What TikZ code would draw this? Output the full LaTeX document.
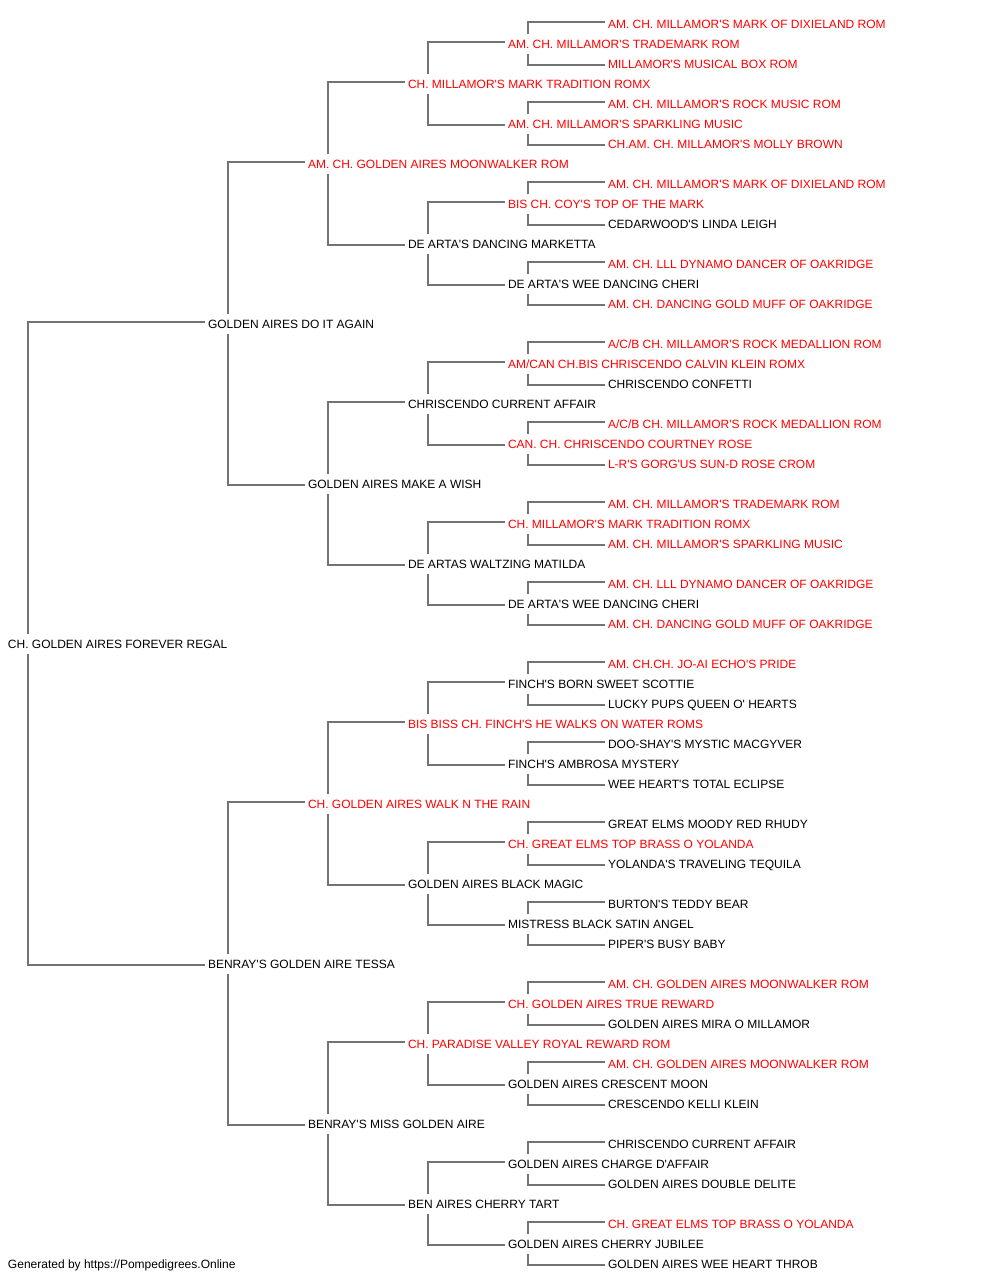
\documentclass[tikz,border=0pt]{standalone}
\usepackage{fontspec}
\setmainfont{Liberation Sans}[Ligatures=TeXOff]
\begin{document}
\begin{tikzpicture}[x=1pt,y=1pt,
  dog/.style={anchor=west,inner sep=0pt,outer sep=0pt,text height=8.6pt,text depth=0pt,font=\fontsize{12}{14}\selectfont,text=black},
  ch/.style={dog,text=red},
  link/.style={draw=black!55,line width=1.6pt}]
\useasboundingbox (0,0) rectangle (1000,-1280);
\newcommand\pn[5]{\node[#4] (#1) at (#2,{-(24+20*#3)}) {#5};}
% generation 0
\pn{r}{8}{31}{dog}{CH. GOLDEN AIRES FOREVER REGAL}
% generation 1
\pn{r0}{208}{15}{dog}{GOLDEN AIRES DO IT AGAIN}
\pn{r1}{208}{47}{dog}{BENRAY'S GOLDEN AIRE TESSA}
% generation 2
\pn{r00}{308}{7}{ch}{AM. CH. GOLDEN AIRES MOONWALKER ROM}
\pn{r01}{308}{23}{dog}{GOLDEN AIRES MAKE A WISH}
\pn{r10}{308}{39}{ch}{CH. GOLDEN AIRES WALK N THE RAIN}
\pn{r11}{308}{55}{dog}{BENRAY'S MISS GOLDEN AIRE}
% generation 3
\pn{r000}{408}{3}{ch}{CH. MILLAMOR'S MARK TRADITION ROMX}
\pn{r001}{408}{11}{dog}{DE ARTA'S DANCING MARKETTA}
\pn{r010}{408}{19}{dog}{CHRISCENDO CURRENT AFFAIR}
\pn{r011}{408}{27}{dog}{DE ARTAS WALTZING MATILDA}
\pn{r100}{408}{35}{ch}{BIS BISS CH. FINCH'S HE WALKS ON WATER ROMS}
\pn{r101}{408}{43}{dog}{GOLDEN AIRES BLACK MAGIC}
\pn{r110}{408}{51}{ch}{CH. PARADISE VALLEY ROYAL REWARD ROM}
\pn{r111}{408}{59}{dog}{BEN AIRES CHERRY TART}
% generation 4
\pn{r0000}{508}{1}{ch}{AM. CH. MILLAMOR'S TRADEMARK ROM}
\pn{r0001}{508}{5}{ch}{AM. CH. MILLAMOR'S SPARKLING MUSIC}
\pn{r0010}{508}{9}{ch}{BIS CH. COY'S TOP OF THE MARK}
\pn{r0011}{508}{13}{dog}{DE ARTA'S WEE DANCING CHERI}
\pn{r0100}{508}{17}{ch}{AM/CAN CH.BIS CHRISCENDO CALVIN KLEIN ROMX}
\pn{r0101}{508}{21}{ch}{CAN. CH. CHRISCENDO COURTNEY ROSE}
\pn{r0110}{508}{25}{ch}{CH. MILLAMOR'S MARK TRADITION ROMX}
\pn{r0111}{508}{29}{dog}{DE ARTA'S WEE DANCING CHERI}
\pn{r1000}{508}{33}{dog}{FINCH'S BORN SWEET SCOTTIE}
\pn{r1001}{508}{37}{dog}{FINCH'S AMBROSA MYSTERY}
\pn{r1010}{508}{41}{ch}{CH. GREAT ELMS TOP BRASS O YOLANDA}
\pn{r1011}{508}{45}{dog}{MISTRESS BLACK SATIN ANGEL}
\pn{r1100}{508}{49}{ch}{CH. GOLDEN AIRES TRUE REWARD}
\pn{r1101}{508}{53}{dog}{GOLDEN AIRES CRESCENT MOON}
\pn{r1110}{508}{57}{dog}{GOLDEN AIRES CHARGE D'AFFAIR}
\pn{r1111}{508}{61}{dog}{GOLDEN AIRES CHERRY JUBILEE}
% generation 5
\pn{r00000}{608}{0}{ch}{AM. CH. MILLAMOR'S MARK OF DIXIELAND ROM}
\pn{r00001}{608}{2}{ch}{MILLAMOR'S MUSICAL BOX ROM}
\pn{r00010}{608}{4}{ch}{AM. CH. MILLAMOR'S ROCK MUSIC ROM}
\pn{r00011}{608}{6}{ch}{CH.AM. CH. MILLAMOR'S MOLLY BROWN}
\pn{r00100}{608}{8}{ch}{AM. CH. MILLAMOR'S MARK OF DIXIELAND ROM}
\pn{r00101}{608}{10}{dog}{CEDARWOOD'S LINDA LEIGH}
\pn{r00110}{608}{12}{ch}{AM. CH. LLL DYNAMO DANCER OF OAKRIDGE}
\pn{r00111}{608}{14}{ch}{AM. CH. DANCING GOLD MUFF OF OAKRIDGE}
\pn{r01000}{608}{16}{ch}{A/C/B CH. MILLAMOR'S ROCK MEDALLION ROM}
\pn{r01001}{608}{18}{dog}{CHRISCENDO CONFETTI}
\pn{r01010}{608}{20}{ch}{A/C/B CH. MILLAMOR'S ROCK MEDALLION ROM}
\pn{r01011}{608}{22}{ch}{L-R'S GORG'US SUN-D ROSE CROM}
\pn{r01100}{608}{24}{ch}{AM. CH. MILLAMOR'S TRADEMARK ROM}
\pn{r01101}{608}{26}{ch}{AM. CH. MILLAMOR'S SPARKLING MUSIC}
\pn{r01110}{608}{28}{ch}{AM. CH. LLL DYNAMO DANCER OF OAKRIDGE}
\pn{r01111}{608}{30}{ch}{AM. CH. DANCING GOLD MUFF OF OAKRIDGE}
\pn{r10000}{608}{32}{ch}{AM. CH.CH. JO-AI ECHO'S PRIDE}
\pn{r10001}{608}{34}{dog}{LUCKY PUPS QUEEN O' HEARTS}
\pn{r10010}{608}{36}{dog}{DOO-SHAY'S MYSTIC MACGYVER}
\pn{r10011}{608}{38}{dog}{WEE HEART'S TOTAL ECLIPSE}
\pn{r10100}{608}{40}{dog}{GREAT ELMS MOODY RED RHUDY}
\pn{r10101}{608}{42}{dog}{YOLANDA'S TRAVELING TEQUILA}
\pn{r10110}{608}{44}{dog}{BURTON'S TEDDY BEAR}
\pn{r10111}{608}{46}{dog}{PIPER'S BUSY BABY}
\pn{r11000}{608}{48}{ch}{AM. CH. GOLDEN AIRES MOONWALKER ROM}
\pn{r11001}{608}{50}{dog}{GOLDEN AIRES MIRA O MILLAMOR}
\pn{r11010}{608}{52}{ch}{AM. CH. GOLDEN AIRES MOONWALKER ROM}
\pn{r11011}{608}{54}{dog}{CRESCENDO KELLI KLEIN}
\pn{r11100}{608}{56}{dog}{CHRISCENDO CURRENT AFFAIR}
\pn{r11101}{608}{58}{dog}{GOLDEN AIRES DOUBLE DELITE}
\pn{r11110}{608}{60}{ch}{CH. GREAT ELMS TOP BRASS O YOLANDA}
\pn{r11111}{608}{62}{dog}{GOLDEN AIRES WEE HEART THROB}
% footer
\pn{foot}{8}{62}{dog}{Generated by https://Pompedigrees.Online}
% connectors
\foreach \p in {r,r0,r1,r00,r01,r10,r11,r000,r001,r010,r011,r100,r101,r110,r111,
  r0000,r0001,r0010,r0011,r0100,r0101,r0110,r0111,r1000,r1001,r1010,r1011,r1100,r1101,r1110,r1111}{
  \draw[link] ([xshift=20pt,yshift=10pt]\p.west) |- ([xshift=-3pt,yshift=2pt]\p0.west);
  \draw[link] ([xshift=20pt,yshift=-10pt]\p.west) |- ([xshift=-3pt,yshift=-1pt]\p1.west);
}
\end{tikzpicture}
\end{document}
